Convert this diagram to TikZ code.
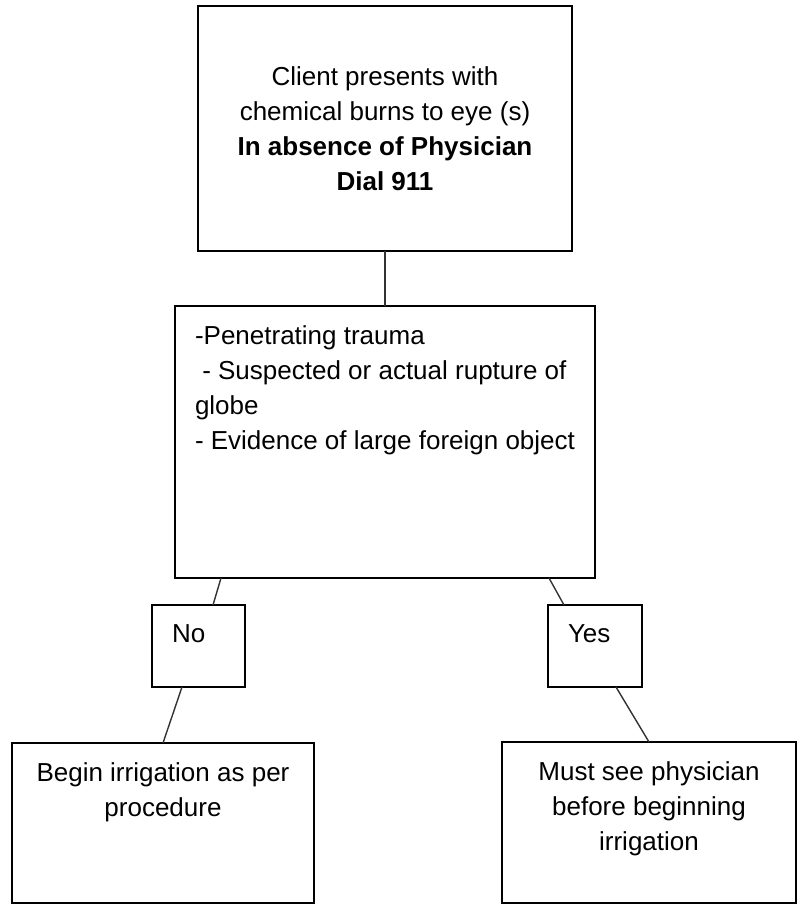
\documentclass[tikz,border=0pt]{standalone}
\usepackage{fontspec}
\setmainfont{Liberation Sans}
\usetikzlibrary{positioning}
\tikzstyle{startbox} = [rectangle, minimum width=187pt, minimum height=122.5pt, align=center, outer sep=0pt, draw=black, line width=1.2pt]
\tikzstyle{checkbox} = [rectangle, inner sep=10pt, outer sep=0pt, draw=black, line width=1.2pt]
\tikzstyle{answer} = [rectangle, inner sep=10pt, outer sep=0pt, draw=black, line width=1.2pt]
\tikzstyle{outcome} = [rectangle, inner sep=10pt, outer sep=0pt, draw=black, line width=1.2pt]
\tikzstyle{link} = [line width=0.7pt, black!80]

\begin{document}
\begin{tikzpicture}[node distance=2cm, font=\fontsize{13pt}{17.5pt}\selectfont]
\useasboundingbox (0,0) rectangle (400pt,-453pt);

\node (start) [startbox, anchor=north west] at (99pt,-3pt) {Client presents with\\chemical burns to eye (s)\\\textbf{In absence of Physician}\\\textbf{Dial 911}};
\node (check) [checkbox, below=27.5pt of start] {\parbox[c][116pt][t]{190pt}{-Penetrating trauma\\\hspace*{0.28em}- Suspected or actual rupture of\\globe\\- Evidence of large foreign object}};
\node (no) [answer, below=13.5pt of check.south west, anchor=north west, xshift=-11.5pt] {\parbox[c][21pt][t]{26.5pt}{No}};
\node (yes) [answer, below=13.5pt of check.south east, anchor=north east, xshift=23.5pt] {\parbox[c][21pt][t]{27pt}{Yes}};
\node (irrigate) [outcome, below=28pt of no, xshift=-17.75pt] {\parbox[c][60pt][t]{131pt}{\centering Begin irrigation as per\\procedure}};
\node (physician) [outcome, below=27.5pt of yes, xshift=27pt] {\parbox[c][60.5pt][t]{127pt}{\centering Must see physician\\before beginning\\irrigation}};

\draw [link] (start) -- (check);
\draw [link] ([xshift=23pt]check.south west) -- ([xshift=30.5pt]no.north west);
\draw [link] ([xshift=-23pt]check.south east) -- ([xshift=8pt]yes.north west);
\draw [link] ([xshift=15pt]no.south west) -- (irrigate.north);
\draw [link] ([xshift=34pt]yes.south west) -- (physician.north);

\end{tikzpicture}
\end{document}
